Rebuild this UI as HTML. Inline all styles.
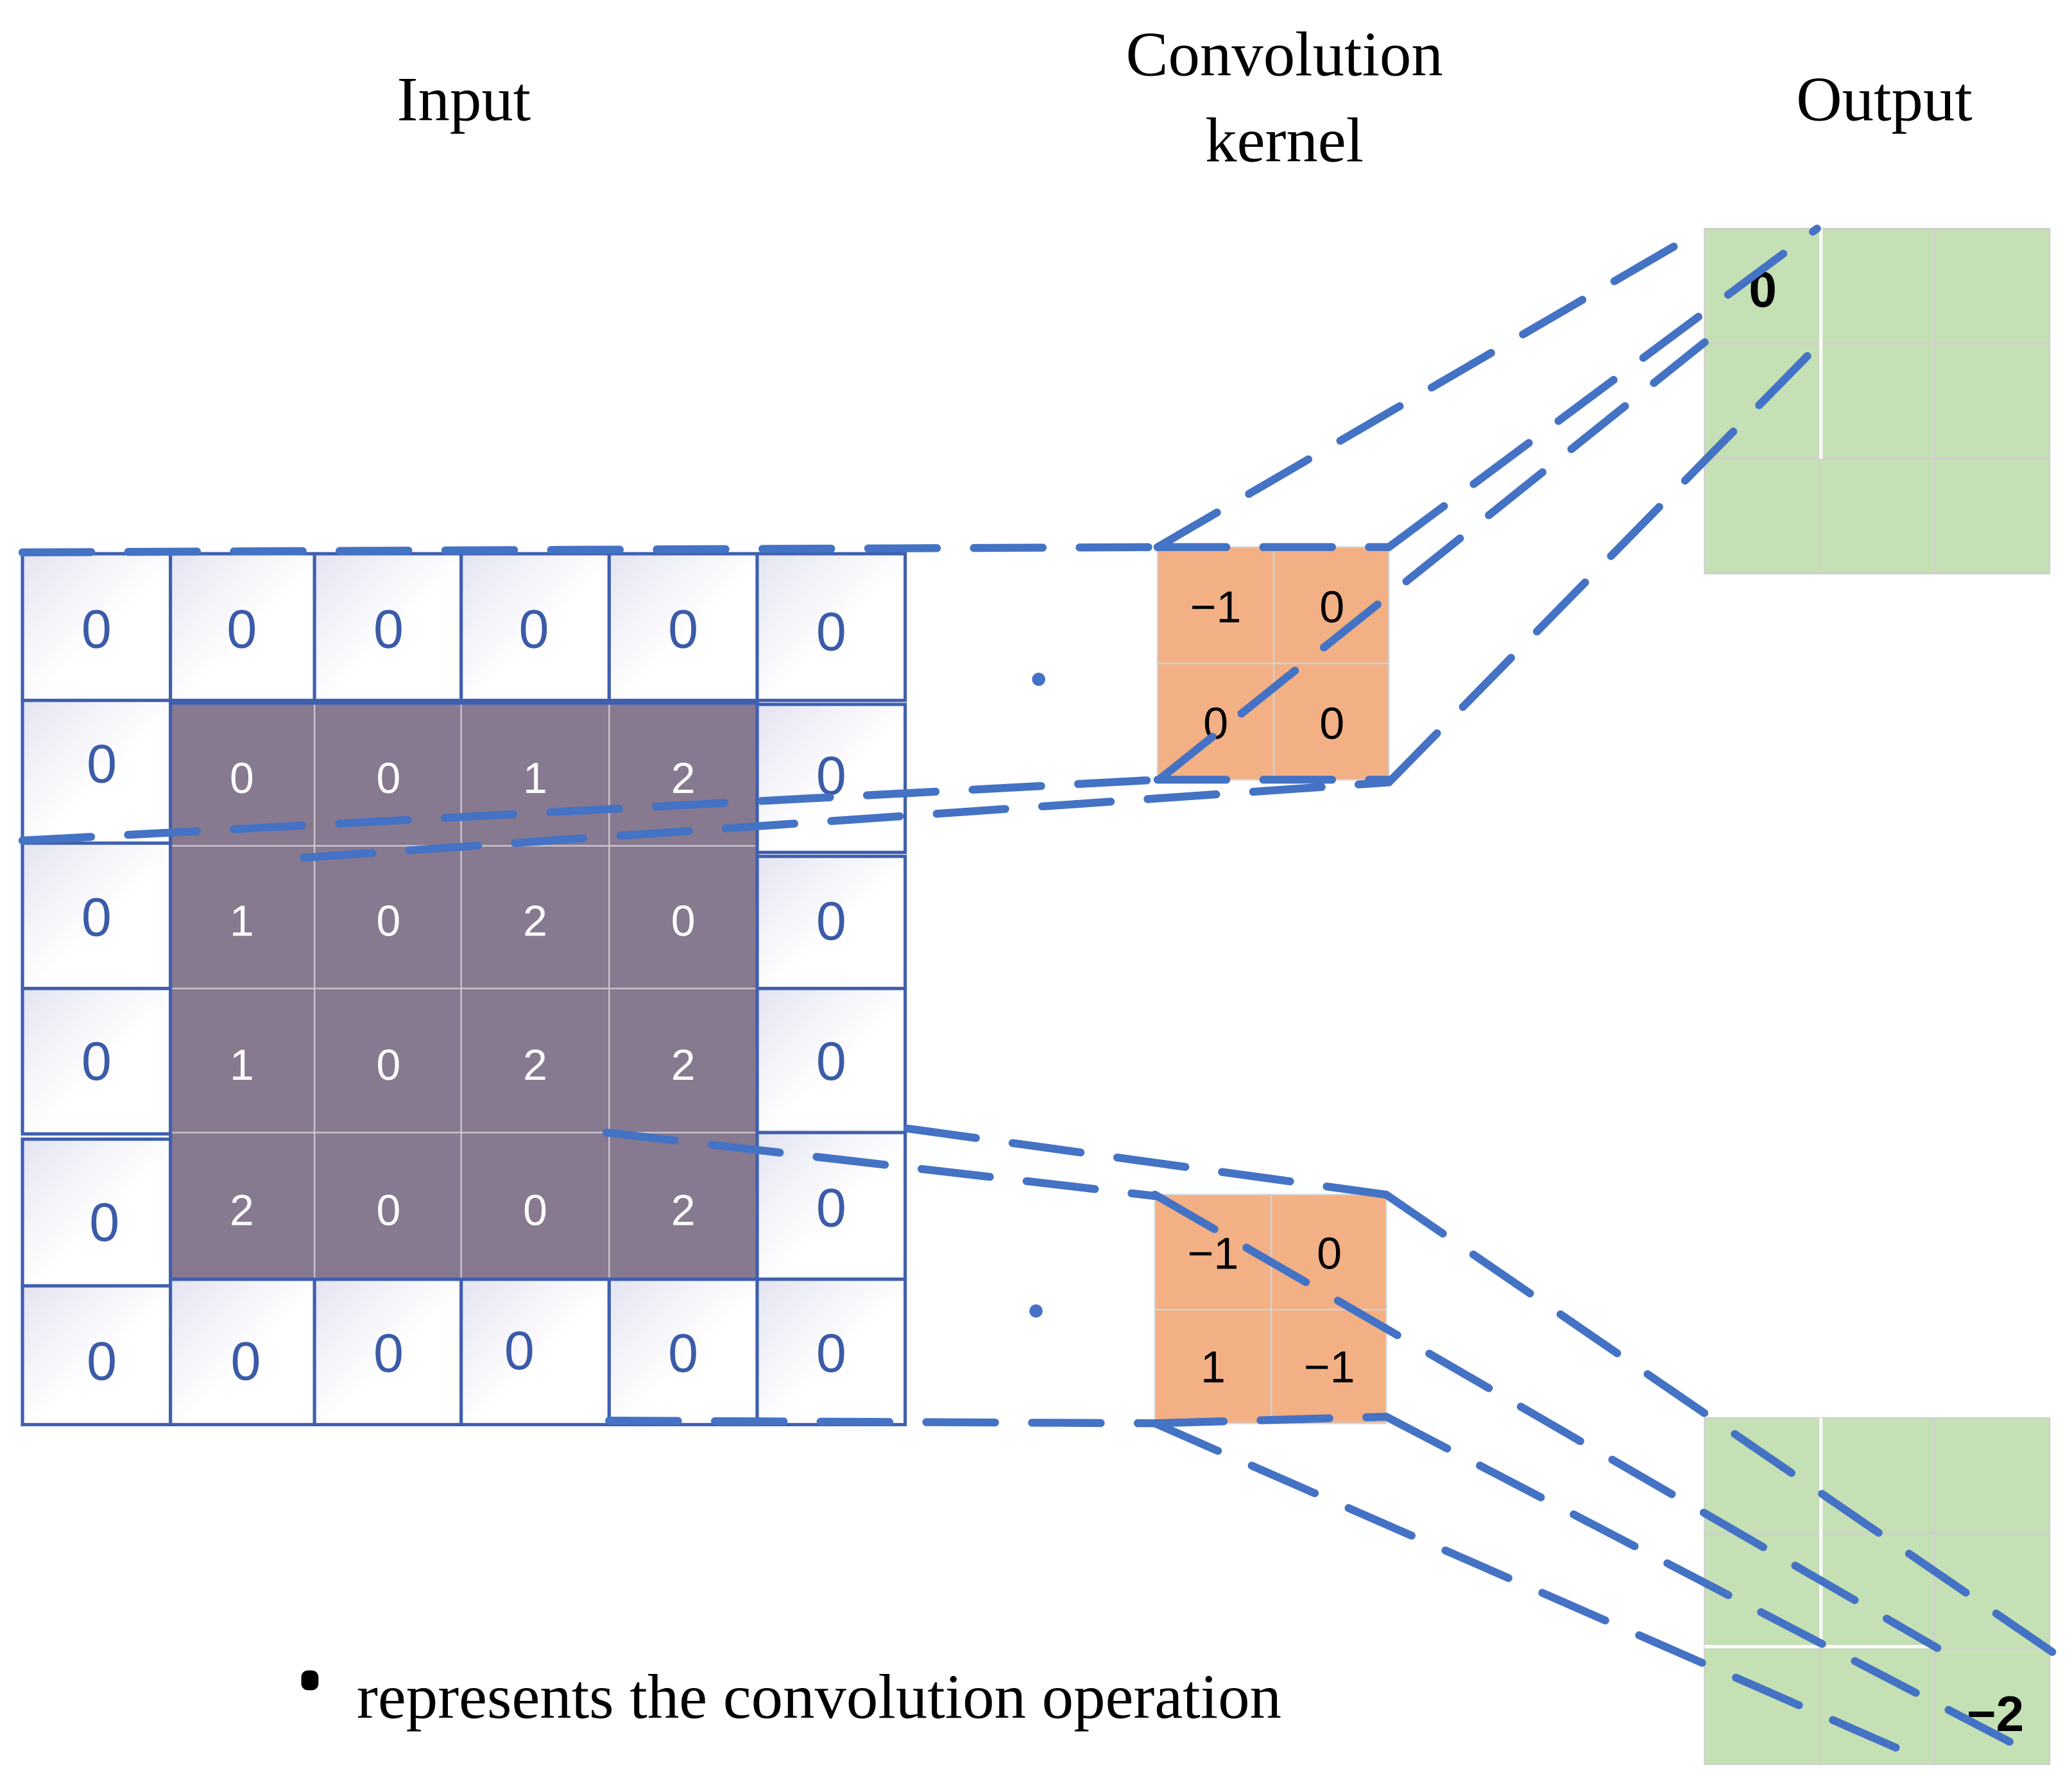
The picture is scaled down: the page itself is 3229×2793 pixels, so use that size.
<!DOCTYPE html>
<html><head><meta charset="utf-8"><style>
html,body{margin:0;padding:0;background:#fff;}
svg{display:block;}
</style></head><body>
<svg width="3229" height="2793" viewBox="0 0 1568 1356" preserveAspectRatio="none" xmlns="http://www.w3.org/2000/svg">
<defs>
<linearGradient id="g" x1="0" y1="0" x2="1" y2="1">
<stop offset="0" stop-color="#e4e4f2"/><stop offset="0.55" stop-color="#ffffff"/><stop offset="1" stop-color="#ffffff"/>
</linearGradient>
</defs>
<rect width="1568" height="1356" fill="#fff"/>
<g font-family="Liberation Serif, serif" font-size="48" fill="#000" text-anchor="middle">
<text x="351" y="91">Input</text>
<text x="972" y="57">Convolution</text>
<text x="972" y="122">kernel</text>
<text x="1426" y="91">Output</text>
</g>
<!-- input cells -->
<g stroke="#3F5FAF" stroke-width="2.5" fill="url(#g)">
<rect x="17" y="419" width="112" height="111"/><rect x="129" y="419" width="109" height="111"/><rect x="238" y="419" width="111" height="111"/><rect x="349" y="419" width="112" height="111"/><rect x="461" y="419" width="112" height="111"/><rect x="573" y="419" width="112" height="111"/>
<rect x="17" y="530" width="112" height="110"/><rect x="573" y="533" width="112" height="112"/>
<rect x="17" y="638" width="112" height="110"/><rect x="573" y="648" width="112" height="100"/>
<rect x="17" y="748" width="112" height="110"/><rect x="573" y="748" width="112" height="109"/>
<rect x="17" y="862" width="112" height="111"/><rect x="573" y="857" width="112" height="111"/>
<rect x="17" y="973" width="112" height="105"/><rect x="129" y="968" width="109" height="110"/><rect x="238" y="968" width="111" height="110"/><rect x="349" y="968" width="112" height="110"/><rect x="461" y="968" width="112" height="110"/><rect x="573" y="968" width="112" height="110"/>
</g>
<rect x="129" y="532" width="444" height="436" fill="#877990"/>
<g stroke="#c8c4cc" stroke-width="1.2">
<line x1="238" y1="532" x2="238" y2="968"/><line x1="349" y1="532" x2="349" y2="968"/><line x1="461" y1="532" x2="461" y2="968"/>
<line x1="129" y1="640" x2="573" y2="640"/><line x1="129" y1="748" x2="573" y2="748"/><line x1="129" y1="857" x2="573" y2="857"/>
</g>
<g stroke="#3F5FAF" stroke-width="2.5" fill="none">
<rect x="129" y="532" width="444" height="436"/>
</g>
<g font-family="Liberation Sans, sans-serif" font-size="41" fill="#3B5BA9" text-anchor="middle">
<text x="73" y="490">0</text><text x="183" y="490">0</text><text x="294" y="490">0</text><text x="404" y="490">0</text><text x="517" y="490">0</text><text x="629" y="492">0</text>
<text x="77" y="592">0</text><text x="629" y="601">0</text>
<text x="73" y="708">0</text><text x="629" y="711">0</text>
<text x="73" y="817">0</text><text x="629" y="817">0</text>
<text x="79" y="939">0</text><text x="629" y="928">0</text>
<text x="77" y="1044">0</text><text x="186" y="1044">0</text><text x="294" y="1038">0</text><text x="393" y="1036">0</text><text x="517" y="1038">0</text><text x="629" y="1038">0</text>
</g>
<g font-family="Liberation Sans, sans-serif" font-size="33" fill="#fff" text-anchor="middle">
<text x="183" y="600">0</text><text x="294" y="600">0</text><text x="405" y="600">1</text><text x="517" y="600">2</text>
<text x="183" y="708">1</text><text x="294" y="708">0</text><text x="405" y="708">2</text><text x="517" y="708">0</text>
<text x="183" y="817">1</text><text x="294" y="817">0</text><text x="405" y="817">2</text><text x="517" y="817">2</text>
<text x="183" y="927">2</text><text x="294" y="927">0</text><text x="405" y="927">0</text><text x="517" y="927">2</text>
</g>
<!-- kernels -->
<g fill="#F2B084" stroke="#d2d2d2" stroke-width="1.2">
<rect x="876" y="414" width="88" height="88"/><rect x="964" y="414" width="87" height="88"/>
<rect x="876" y="502" width="88" height="88"/><rect x="964" y="502" width="87" height="88"/>
<rect x="874" y="904" width="88" height="87"/><rect x="962" y="904" width="87" height="87"/>
<rect x="874" y="991" width="88" height="86"/><rect x="962" y="991" width="87" height="86"/>
</g>
<g font-family="Liberation Sans, sans-serif" font-size="34" fill="#000" text-anchor="middle">
<text x="920" y="471">−1</text><text x="1008" y="471">0</text>
<text x="920" y="559">0</text><text x="1008" y="559">0</text>
<text x="918" y="960">−1</text><text x="1006" y="960">0</text>
<text x="918" y="1046">1</text><text x="1006" y="1046">−1</text>
</g>
<!-- outputs -->
<g fill="#C5E0B4" stroke="#cfcfcf" stroke-width="1.2">
<rect x="1290" y="173" width="87" height="87"/><rect x="1377" y="173" width="87" height="87"/><rect x="1464" y="173" width="87" height="87"/>
<rect x="1290" y="260" width="87" height="87"/><rect x="1377" y="260" width="87" height="87"/><rect x="1464" y="260" width="87" height="87"/>
<rect x="1290" y="347" width="87" height="87"/><rect x="1377" y="347" width="87" height="87"/><rect x="1464" y="347" width="87" height="87"/>
<rect x="1290" y="1073" width="87" height="87"/><rect x="1377" y="1073" width="87" height="87"/><rect x="1464" y="1073" width="87" height="87"/>
<rect x="1290" y="1160" width="87" height="87"/><rect x="1377" y="1160" width="87" height="87"/><rect x="1464" y="1160" width="87" height="87"/>
<rect x="1290" y="1247" width="87" height="88"/><rect x="1377" y="1247" width="87" height="88"/><rect x="1464" y="1247" width="87" height="88"/>
</g>
<g stroke="#fff" stroke-width="2.5">
<line x1="1378" y1="173" x2="1378" y2="347"/>
<line x1="1378" y1="1073" x2="1378" y2="1247"/>
<line x1="1290" y1="1246" x2="1464" y2="1246"/>
</g>
<g font-family="Liberation Sans, sans-serif" font-size="38" font-weight="bold" fill="#000" text-anchor="middle">
<text x="1334" y="232">0</text>
<text x="1510" y="1310">−2</text>
</g>
<!-- dots -->
<circle cx="786" cy="514" r="5" fill="#4472C4"/>
<circle cx="784" cy="992" r="5" fill="#4472C4"/>
<!-- dashed lines -->
<g stroke="#4472C4" stroke-width="6" stroke-linecap="round" stroke-dasharray="52 28" fill="none">
<line x1="17" y1="418" x2="876" y2="414"/>
<line x1="876" y1="414" x2="1051" y2="414"/>
<line x1="17" y1="636" x2="877" y2="590"/>
<line x1="230" y1="649" x2="1051" y2="592"/>
<line x1="876" y1="590" x2="1051" y2="590"/>
<line x1="876" y1="414" x2="1290" y2="173"/>
<line x1="1051" y1="414" x2="1375" y2="173"/>
<line x1="877" y1="590" x2="1290" y2="259"/>
<line x1="1051" y1="592" x2="1377" y2="260"/>
<line x1="459" y1="857" x2="874" y2="905"/>
<line x1="687" y1="854" x2="1049" y2="904"/>
<line x1="461" y1="1075" x2="874" y2="1077"/>
<line x1="874" y1="1077" x2="1049" y2="1072"/>
<line x1="874" y1="904" x2="1466" y2="1247"/>
<line x1="1049" y1="904" x2="1553" y2="1250"/>
<line x1="874" y1="1077" x2="1452" y2="1330"/>
<line x1="1049" y1="1072" x2="1540" y2="1328"/>
</g>
<!-- legend -->
<rect x="228" y="1264" width="13" height="15" rx="5" fill="#000"/>
<text x="270" y="1300" font-family="Liberation Serif, serif" font-size="48" fill="#000">represents the convolution operation</text>
</svg>
</body></html>
